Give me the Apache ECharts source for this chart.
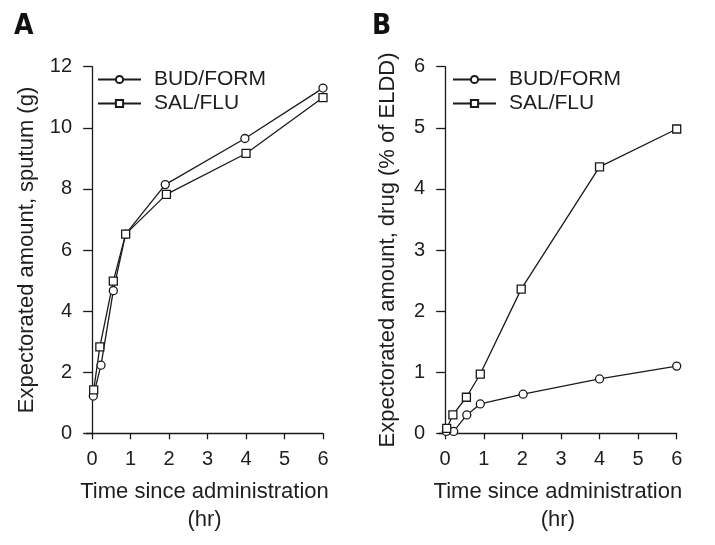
<!DOCTYPE html>
<html>
<head>
<meta charset="utf-8">
<script src="https://cdn.jsdelivr.net/npm/echarts@6.0.0/dist/echarts.min.js"></script>
<style>
html,body{margin:0;padding:0;background:#fff;}
#chart{width:715px;height:545px;}
</style>
</head>
<body>
<div id="chart"></div>
<script>
// ---- data ----
var seriesNames = ['BUD/FORM', 'SAL/FLU'];
var xTicks = [0, 1, 2, 3, 4, 5, 6];

// Panel A: expectorated sputum (g)
var timeA_bud = [0.03, 0.23, 0.55, 0.87, 1.90, 3.97, 6.00];
var sputum_bud = [1.22, 2.23, 4.67, 6.52, 8.14, 9.65, 11.30];
var timeA_sal = [0.04, 0.20, 0.55, 0.87, 1.93, 4.00, 6.00];
var sputum_sal = [1.42, 2.83, 4.98, 6.52, 7.82, 9.16, 10.99];

// Panel B: expectorated drug (% of ELDD)
var timeB_bud = [0.03, 0.22, 0.56, 0.91, 2.02, 4.00, 6.00];
var drug_bud = [0.03, 0.03, 0.30, 0.48, 0.64, 0.89, 1.10];
var timeB_sal = [0.04, 0.20, 0.55, 0.91, 1.97, 4.00, 6.00];
var drug_sal = [0.08, 0.30, 0.59, 0.97, 2.36, 4.36, 4.98];

function pairs(xs, ys) { return xs.map(function (x, i) { return [x, ys[i]]; }); }

var INK = '#1a1a1a';
var TXT = '#1e1e1e';
var FONT = '"Liberation Sans", Arial, Helvetica, sans-serif';
var PFONT = '"Liberation Sans Narrow","DejaVu Sans Condensed", sans-serif';

function xAxis(gridIndex) {
  return {
    type: 'value', gridIndex: gridIndex, min: -0.16, max: 6,
    name: 'Time since administration\n(hr)', nameLocation: 'middle', nameGap: 45,
    nameTextStyle: { fontSize: 22, color: TXT, fontFamily: FONT, lineHeight: 28 },
    axisLine: { show: true, onZero: false, lineStyle: { color: INK, width: 1.3 } },
    axisTick: { show: true, length: 6, inside: false, customValues: xTicks, lineStyle: { color: INK, width: 1.3 } },
    axisLabel: { customValues: xTicks, fontSize: 20, color: TXT, fontFamily: FONT, margin: 16 },
    splitLine: { show: false }
  };
}
function yAxis(gridIndex, max, name, gap) {
  return {
    type: 'value', gridIndex: gridIndex, min: 0, max: max, interval: max / 6,
    name: name, nameLocation: 'middle', nameGap: gap,
    nameTextStyle: { fontSize: 22, color: TXT, fontFamily: FONT },
    axisLine: { show: true, lineStyle: { color: INK, width: 1.3 } },
    axisTick: { show: true, length: 9, inside: false, lineStyle: { color: INK, width: 1.3 } },
    axisLabel: { fontSize: 20, color: TXT, fontFamily: FONT, margin: 14 },
    splitLine: { show: false }
  };
}
function line(name, sym, xi, data) {
  return {
    type: 'line', name: name, xAxisIndex: xi, yAxisIndex: xi, data: data,
    symbol: sym, symbolSize: 8, showSymbol: true,
    lineStyle: { color: INK, width: 1.3 },
    itemStyle: { color: '#ffffff', borderColor: INK, borderWidth: 1.3 },
    emphasis: { disabled: true }, animation: false
  };
}
function legend(left) {
  return {
    data: seriesNames, orient: 'vertical', left: left, top: 64,
    itemWidth: 43, itemHeight: 9, itemGap: 3,
    textStyle: { fontSize: 21, color: TXT, fontFamily: FONT, padding: [0, 0, 0, 8] },
    selectedMode: false
  };
}

var chart = echarts.init(document.getElementById('chart'), null, { renderer: 'canvas' });
chart.setOption({
  backgroundColor: '#ffffff',
  animation: false,
  title: [
    { text: 'A', left: 9, top: 8, textStyle: { fontSize: 28, fontWeight: 'bold', color: '#111', fontFamily: PFONT } },
    { text: 'B', left: 367, top: 8, textStyle: { fontSize: 28, fontWeight: 'bold', color: '#111', fontFamily: PFONT } }
  ],
  legend: [legend(92), legend(447)],
  grid: [
    { left: 86, right: 392, top: 66.7, bottom: 111.7 },
    { left: 439, right: 38.3, top: 66.7, bottom: 111.7 }
  ],
  xAxis: [xAxis(0), xAxis(1)],
  yAxis: [
    yAxis(0, 12, 'Expectorated amount, sputum (g)', 48),
    yAxis(1, 6, 'Expectorated amount, drug (% of ELDD)', 40)
  ],
  series: [
    line(seriesNames[0], 'circle', 0, pairs(timeA_bud, sputum_bud)),
    line(seriesNames[1], 'rect', 0, pairs(timeA_sal, sputum_sal)),
    line(seriesNames[0], 'circle', 1, pairs(timeB_bud, drug_bud)),
    line(seriesNames[1], 'rect', 1, pairs(timeB_sal, drug_sal))
  ]
});
</script>
</body>
</html>
